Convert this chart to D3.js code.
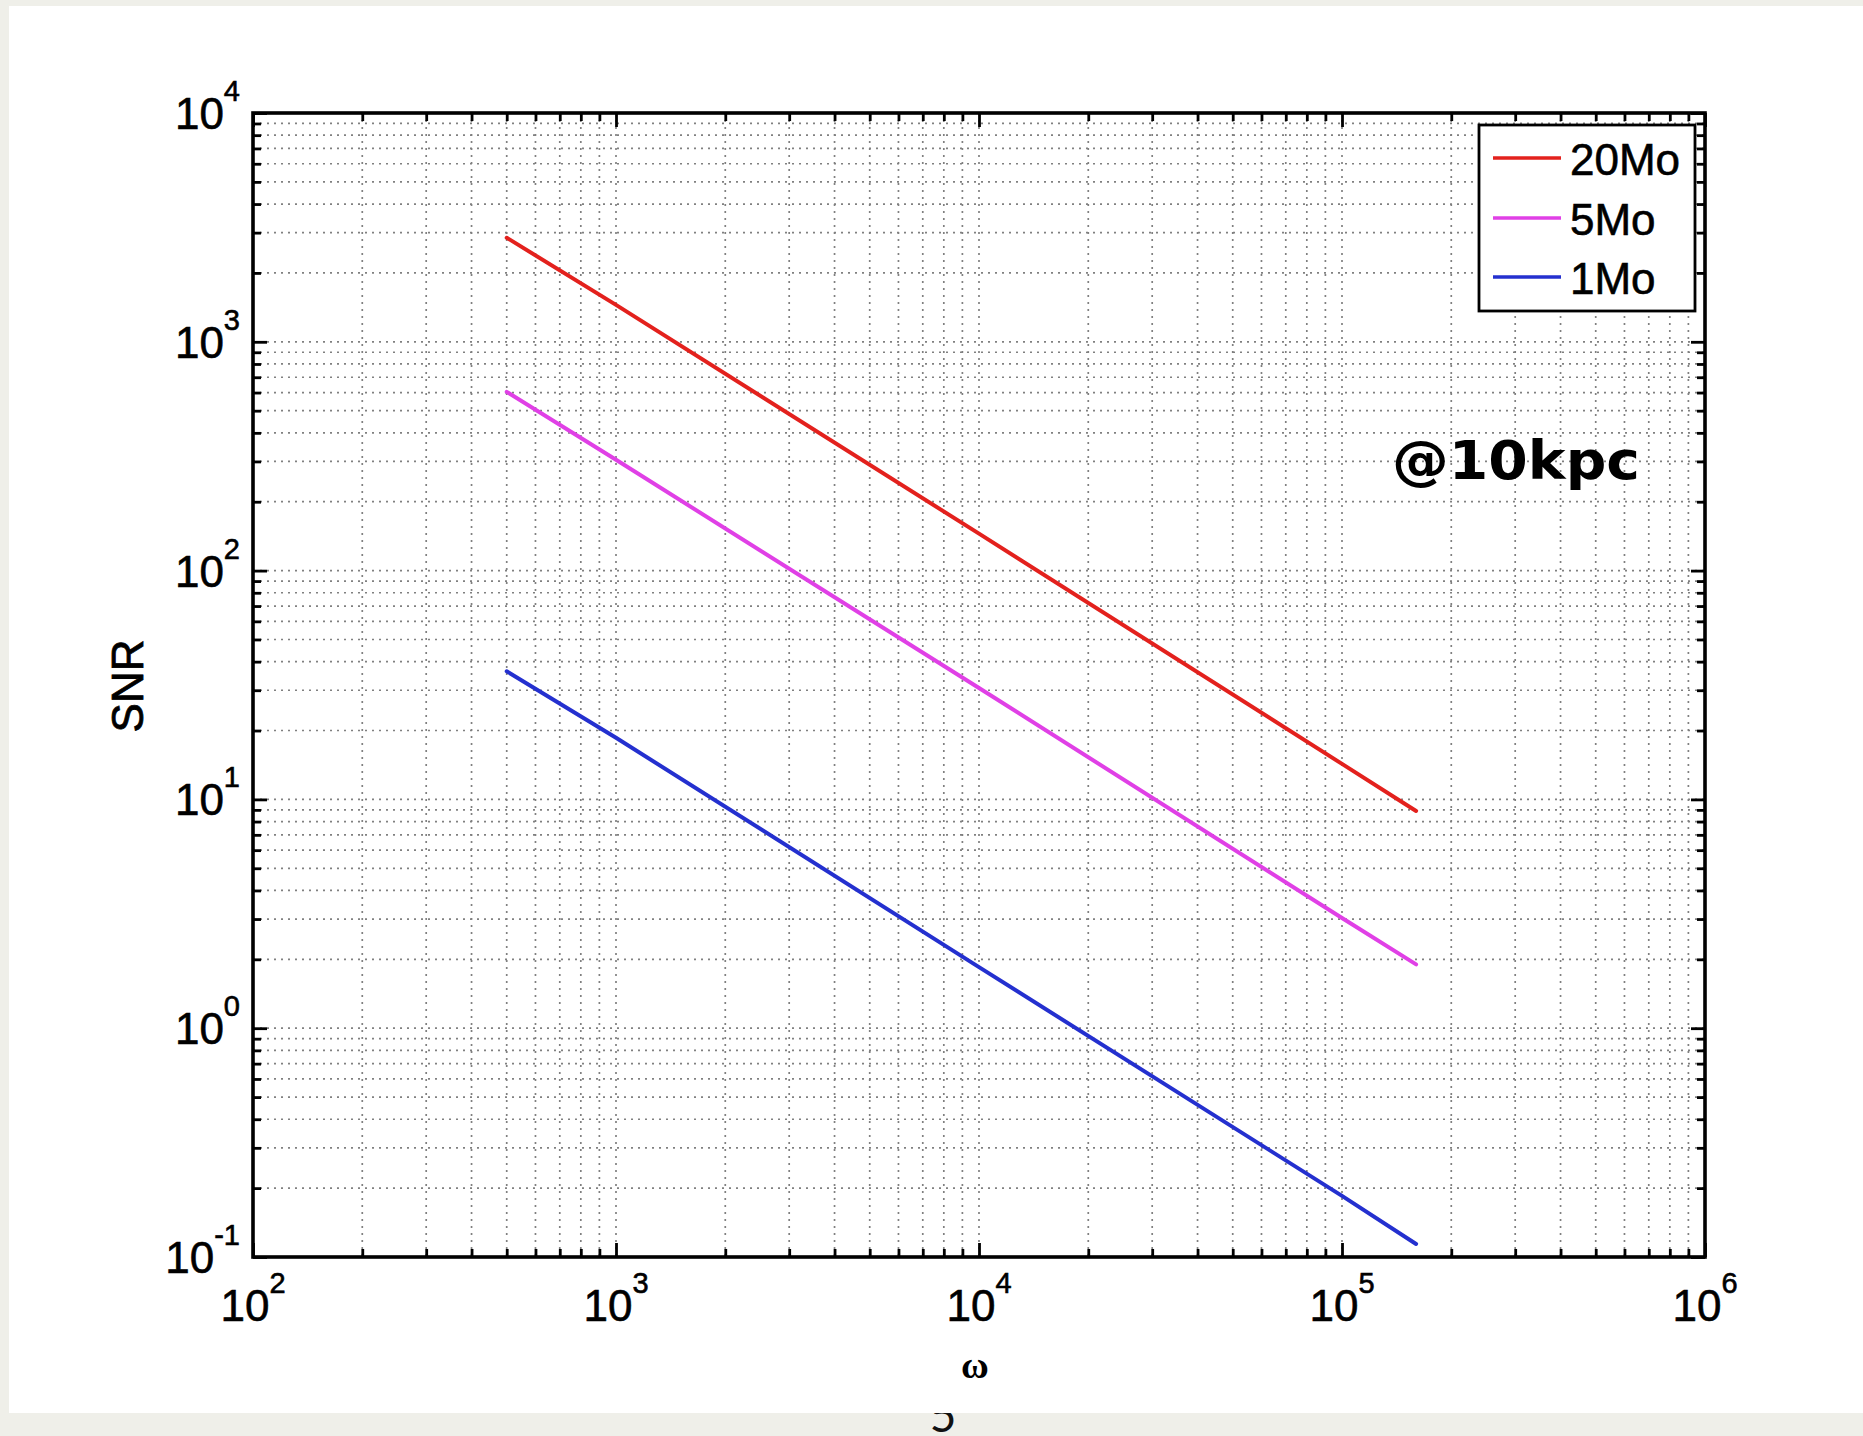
<!DOCTYPE html>
<html><head><meta charset="utf-8">
<script src="https://cdn.jsdelivr.net/npm/d3@7"></script>
<style>body{margin:0;background:#efefe9;overflow:hidden} svg{display:block}</style>
</head><body><svg id="c" width="1863" height="1436"></svg>
<script>
// ---- data ----
const omega   = [500, 1000, 10000, 100000, 160000];
const snr20Mo = [2850, 1450, 145, 14.3, 8.9];
const snr5Mo  = [604, 305, 30.7, 3.03, 1.9];
const snr1Mo  = [36.3, 18.6, 1.85, 0.185, 0.114];
const seriesNames  = ["20Mo", "5Mo", "1Mo"];
const seriesColors = ["#e3211d", "#e040e6", "#2430cf"];
const xMajorTicks = [1e2, 1e3, 1e4, 1e5, 1e6];
const yMajorTicks = [1e-1, 1e0, 1e1, 1e2, 1e3, 1e4];
const xExponents = ["2", "3", "4", "5", "6"];
const yExponents = ["-1", "0", "1", "2", "3", "4"];
const xLabel = "ω";
const yLabel = "SNR";
const annotation = "@10kpc";
const pageNumber = "5";

const W = 1863, H = 1436;
const svg = d3.select("#c");
svg.append("rect").attr("width", W).attr("height", H).attr("fill", "#efefe9");
svg.append("text").text(pageNumber).attr("x", 943).attr("y", 1432)
  .attr("text-anchor", "middle").attr("font-family", "Lato, 'Open Sans', sans-serif")
  .attr("font-size", 46).attr("fill", "#111");
svg.append("rect").attr("x", 9).attr("y", 6).attr("width", W - 9).attr("height", 1407).attr("fill", "#ffffff");

const m = {l: 253, r: 1705, t: 113, b: 1257};
const x = d3.scaleLog().domain([1e2, 1e6]).range([m.l, m.r]);
const y = d3.scaleLog().domain([1e-1, 1e4]).range([m.b, m.t]);

function minors(majors) {
  const out = [];
  for (let i = 0; i < majors.length - 1; i++)
    for (let k = 2; k <= 9; k++) out.push(k * majors[i]);
  return out;
}
const xMinor = minors(xMajorTicks), yMinor = minors(yMajorTicks);
const xAll = xMajorTicks.concat(xMinor), yAll = yMajorTicks.concat(yMinor);

// grid
const grid = svg.append("g").attr("stroke", "#808080").attr("stroke-width", 1.7)
  .attr("stroke-dasharray", "2,5");
grid.selectAll("line.gx").data(xAll).join("line").attr("class", "gx")
  .attr("x1", d => x(d)).attr("x2", d => x(d)).attr("y1", m.t).attr("y2", m.b);
grid.selectAll("line.gy").data(yAll).join("line").attr("class", "gy")
  .attr("y1", d => y(d)).attr("y2", d => y(d)).attr("x1", m.l).attr("x2", m.r);

// axes tick marks (inward, on all four sides)
function addAxis(gen, tr, vals, size) {
  const g = svg.append("g").attr("transform", tr)
    .call(gen.tickValues(vals).tickSize(-size).tickFormat(""));
  g.select(".domain").remove();
  g.selectAll(".tick line").attr("stroke", "#000").attr("stroke-width", 2.8);
}
[[xMinor, 8], [xMajorTicks, 14]].forEach(([v, s]) => {
  addAxis(d3.axisBottom(x), `translate(0,${m.b})`, v, s);
  addAxis(d3.axisTop(x), `translate(0,${m.t})`, v, s);
});
[[yMinor, 8], [yMajorTicks, 14]].forEach(([v, s]) => {
  addAxis(d3.axisLeft(y), `translate(${m.l},0)`, v, s);
  addAxis(d3.axisRight(y), `translate(${m.r},0)`, v, s);
});

// series
const series = [snr20Mo, snr5Mo, snr1Mo];
const line = d3.line().x(d => x(d[0])).y(d => y(d[1]));
series.forEach((vals, i) => {
  svg.append("path").datum(omega.map((w, j) => [w, vals[j]]))
    .attr("d", line).attr("fill", "none").attr("stroke", seriesColors[i])
    .attr("stroke-width", 4).attr("stroke-linecap", "round");
});

// box
svg.append("rect").attr("x", m.l).attr("y", m.t).attr("width", m.r - m.l).attr("height", m.b - m.t)
  .attr("fill", "none").attr("stroke", "#000").attr("stroke-width", 3.6);

// tick labels
const font = "'Liberation Sans', Arial, Helvetica, sans-serif";
xMajorTicks.forEach((v, i) => {
  const t = svg.append("text").attr("x", x(v)).attr("y", 1321).attr("text-anchor", "middle")
    .attr("font-family", font).attr("font-size", 44).attr("fill", "#000")
    .attr("stroke", "#000").attr("stroke-width", 0.6);
  t.append("tspan").text("10");
  t.append("tspan").attr("dy", -28).attr("font-size", 29).text(xExponents[i]);
});
yMajorTicks.forEach((v, i) => {
  const t = svg.append("text").attr("x", 240).attr("y", y(v) + 16).attr("text-anchor", "end")
    .attr("font-family", font).attr("font-size", 44).attr("fill", "#000")
    .attr("stroke", "#000").attr("stroke-width", 0.6);
  t.append("tspan").text("10");
  t.append("tspan").attr("dy", -28).attr("font-size", 29).text(yExponents[i]);
});

// axis labels
svg.append("text").text(yLabel).attr("transform", "translate(143,686) rotate(-90)")
  .attr("text-anchor", "middle").attr("font-family", font).attr("font-size", 44).attr("fill", "#000")
  .attr("stroke", "#000").attr("stroke-width", 0.8);
svg.append("text").text(xLabel).attr("x", 975).attr("y", 1378).attr("text-anchor", "middle")
  .attr("font-family", "'Liberation Serif', 'DejaVu Serif', serif").attr("font-weight", "bold")
  .attr("font-size", 38).attr("fill", "#000");

// annotation
svg.append("text").text(annotation).attr("x", 1392).attr("y", 479)
  .attr("font-family", "'DejaVu Sans', sans-serif").attr("font-weight", "bold")
  .attr("font-size", 54).attr("textLength", 248).attr("lengthAdjust", "spacingAndGlyphs").attr("fill", "#000");

// legend
const lg = svg.append("g");
lg.append("rect").attr("x", 1479).attr("y", 125).attr("width", 216).attr("height", 186)
  .attr("fill", "#fff").attr("stroke", "#000").attr("stroke-width", 2.8);
const ly = [158, 218, 277];
seriesNames.forEach((n, i) => {
  lg.append("line").attr("x1", 1493).attr("x2", 1561).attr("y1", ly[i]).attr("y2", ly[i])
    .attr("stroke", seriesColors[i]).attr("stroke-width", 3.6);
  lg.append("text").text(n).attr("x", 1570).attr("y", ly[i] + 17)
    .attr("font-family", font).attr("font-size", 44).attr("fill", "#000")
    .attr("stroke", "#000").attr("stroke-width", 0.6);
});
</script></body></html>
